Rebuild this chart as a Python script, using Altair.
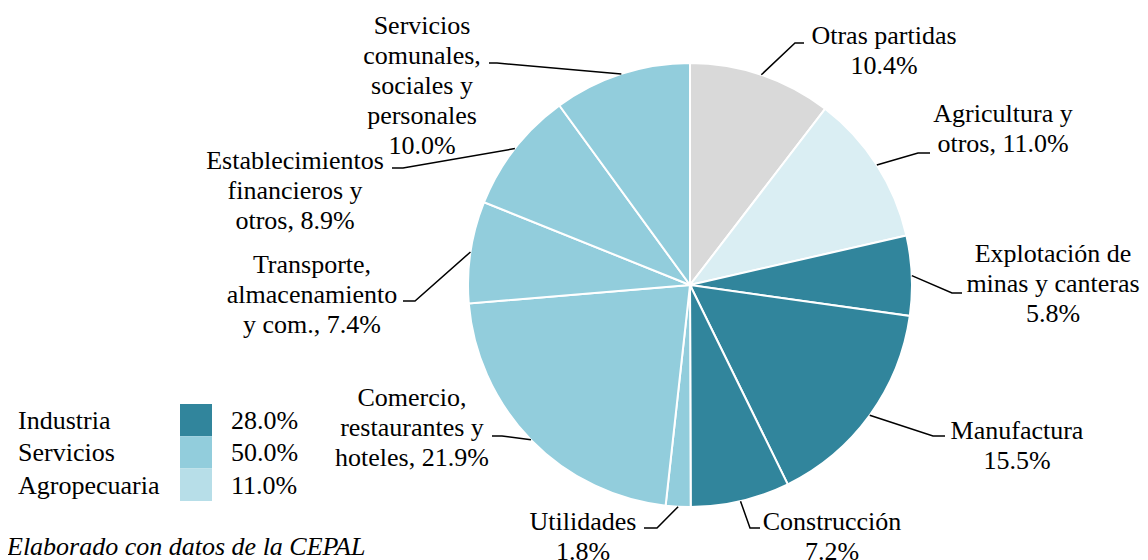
import math
import altair as alt
import pandas as pd

# ---------------- data ----------------
sectors = ["Otras partidas", "Agricultura y otros", "Explotación de minas y canteras",
           "Manufactura", "Construcción", "Utilidades",
           "Comercio, restaurantes y hoteles", "Transporte, almacenamiento y com.",
           "Establecimientos financieros y otros", "Servicios comunales, sociales y personales"]
values = [10.4, 11.0, 5.8, 15.5, 7.2, 1.8, 21.9, 7.4, 8.9, 10.0]
groups = ["Otras", "Agro", "Industria", "Industria", "Industria", "Servicios",
          "Servicios", "Servicios", "Servicios", "Servicios"]
label_lines = [
    ["Otras partidas", "10.4%"],
    ["Agricultura y", "otros, 11.0%"],
    ["Explotación de", "minas y canteras", "5.8%"],
    ["Manufactura", "15.5%"],
    ["Construcción", "7.2%"],
    ["Utilidades", "1.8%"],
    ["Comercio,", "restaurantes y", "hoteles, 21.9%"],
    ["Transporte,", "almacenamiento", "y com., 7.4%"],
    ["Establecimientos", "financieros y", "otros, 8.9%"],
    ["Servicios", "comunales,", "sociales y", "personales", "10.0%"],
]
group_domain = ["Otras", "Agro", "Industria", "Servicios"]
group_colors = ["#d9d9d9", "#daeef3", "#31859c", "#92cddc"]

legend_names = ["Industria", "Servicios", "Agropecuaria"]
legend_values = ["28.0%", "50.0%", "11.0%"]
legend_colors = ["#31859c", "#92cddc", "#b7dee8"]

footnote = "Elaborado con datos de la CEPAL"

# ---------------- layout (page pixels) ----------------
OFF = 8
CX, CY, R = 690, 285, 222
FONT = "Liberation Serif"
FS = 26
LH = 30
# label block: centre x, first-line y
label_pos = [(884, 36), (1003, 114), (1053, 254), (1017, 431), (832, 522),
             (583, 522), (412, 398), (312, 265), (295, 161), (422, 26)]
# leader elbow and end points
elbows = [(795, 43), (918, 153), (952, 293), (933, 436), (750, 528),
          (657, 528), (502, 436), (415, 301), (403, 168), (497, 63)]
ends = [(804, 43), (930, 153), (962, 293), (945, 436), (760, 528),
        (644, 528), (492, 436), (403, 301), (392, 168), (489, 63)]

total = sum(values)
pie_df = pd.DataFrame({"sector": sectors, "value": values, "group": groups,
                       "idx": list(range(len(sectors)))})

# leader lines: start on the rim at each slice's mid angle
line_rows = []
cum = 0.0
for i, v in enumerate(values):
    a = 2 * math.pi * (cum + v / 2) / total
    cum += v
    sx, sy = CX + R * math.sin(a), CY - R * math.cos(a)
    pts = [(sx, sy), elbows[i], ends[i]]
    for k, (px, py) in enumerate(pts):
        line_rows.append({"sector": sectors[i], "k": k, "x": px - OFF, "y": py - OFF})
line_df = pd.DataFrame(line_rows)

text_rows = []
for i, lines in enumerate(label_lines):
    lx, ly = label_pos[i]
    for j, t in enumerate(lines):
        text_rows.append({"t": t, "x": lx - OFF, "y": ly + j * LH - OFF})
text_df = pd.DataFrame(text_rows)

leg_rows = []
for i in range(len(legend_names)):
    top = 404 + i * 32.3
    leg_rows.append({"name": legend_names[i], "val": legend_values[i], "col": legend_colors[i],
                     "x1": 180 - OFF, "x2": 212 - OFF, "y1": top - OFF, "y2": top + 32.3 - OFF,
                     "ty": top + 17 - OFF, "nx": 18 - OFF, "vx": 231 - OFF})
leg_df = pd.DataFrame(leg_rows)

foot_df = pd.DataFrame({"t": [footnote], "x": [7 - OFF], "y": [547 - OFF]})

W, H = 1148 - 2 * OFF, 560 - OFF

pie = alt.Chart(pie_df).mark_arc(radius=R, stroke="white", strokeWidth=2).encode(
    theta=alt.Theta("value:Q", stack=True),
    color=alt.Color("group:N", scale=alt.Scale(domain=group_domain, range=group_colors), legend=None),
    order=alt.Order("idx:Q"),
    x=alt.value(CX - OFF),
    y=alt.value(CY - OFF),
)

leaders = alt.Chart(line_df).mark_line(color="black", strokeWidth=1.5).encode(
    x=alt.X("x:Q", scale=None, axis=None),
    y=alt.Y("y:Q", scale=None, axis=None),
    detail="sector:N",
    order="k:Q",
)

labels = alt.Chart(text_df).mark_text(font=FONT, fontSize=FS, baseline="middle", align="center",
                                      color="black").encode(
    x=alt.X("x:Q", scale=None, axis=None),
    y=alt.Y("y:Q", scale=None, axis=None),
    text="t:N",
)

leg_rect = alt.Chart(leg_df).mark_rect().encode(
    x=alt.X("x1:Q", scale=None, axis=None), x2="x2:Q",
    y=alt.Y("y1:Q", scale=None, axis=None), y2="y2:Q",
    color=alt.Color("col:N", scale=None),
)
leg_name = alt.Chart(leg_df).mark_text(font=FONT, fontSize=FS, baseline="middle", align="left",
                                       color="black").encode(
    x=alt.X("nx:Q", scale=None, axis=None),
    y=alt.Y("ty:Q", scale=None, axis=None),
    text="name:N",
)
leg_val = alt.Chart(leg_df).mark_text(font=FONT, fontSize=FS, baseline="middle", align="left",
                                      color="black").encode(
    x=alt.X("vx:Q", scale=None, axis=None),
    y=alt.Y("ty:Q", scale=None, axis=None),
    text="val:N",
)
foot = alt.Chart(foot_df).mark_text(font=FONT, fontSize=FS, fontStyle="italic", baseline="middle",
                                    align="left", color="black").encode(
    x=alt.X("x:Q", scale=None, axis=None),
    y=alt.Y("y:Q", scale=None, axis=None),
    text="t:N",
)

chart = alt.layer(pie, leaders, labels, leg_rect, leg_name, leg_val, foot).properties(
    width=W, height=H, autosize=alt.AutoSizeParams(type="none"), padding=0
).configure_view(strokeWidth=0)

chart.save("out.html", embed_options={"renderer": "svg", "actions": False})
